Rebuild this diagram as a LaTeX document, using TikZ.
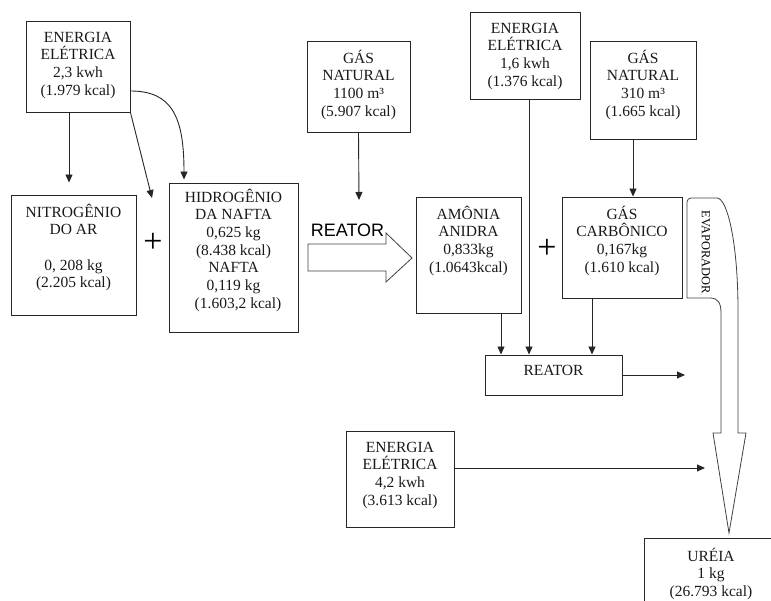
\documentclass[tikz,border=0pt]{standalone}
\usepackage{fontspec}
\setmainfont{Liberation Serif}
\newfontfamily\arialfont{Liberation Sans}
\usepackage{tikz}
\usetikzlibrary{positioning, arrows.meta}
\tikzstyle{box} = [rectangle, draw=black!85, line width=0.9pt, inner sep=0pt]
\tikzstyle{txt} = [font=\fontsize{15.5}{17.7}\selectfont, align=center, inner sep=0pt, text=black!90]
\tikzstyle{plus} = [font=\fontsize{34}{34}\selectfont, inner sep=0pt]
\tikzstyle{arrow} = [line width=0.9pt, draw=black!85, -{Triangle[length=8pt,width=7pt]}]
\tikzstyle{bigarrow} = [line width=0.8pt, draw=black!75]

\begin{document}
\begin{tikzpicture}[x=1pt, y=1pt]
  \useasboundingbox (0,0) rectangle (771,601);
  \clip (0,0) rectangle (771,601);
  % boxes
  \node (energia1) [box, minimum width=104pt, minimum height=91pt] at (78,534.5) {};
  \node (nitrogenio) [box, minimum width=125pt, minimum height=120pt] at (73.5,346) {};
  \node (hidrogenio) [box, minimum width=129pt, minimum height=149pt] at (233.5,343.5) {};
  \node (gas1) [box, minimum width=103pt, minimum height=91pt] at (358.5,514.5) {};
  \node (energia2) [box, minimum width=110pt, minimum height=87pt] at (525,545.5) {};
  \node (gas2) [box, minimum width=106pt, minimum height=98pt] at (643,511) {};
  \node (amonia) [box, minimum width=105pt, minimum height=116pt] at (468.5,346) {};
  \node (carbonico) [box, minimum width=120pt, minimum height=101pt] at (622,353.5) {};
  \node (reator) [box, minimum width=137pt, minimum height=40pt] at (553.5,226) {};
  \node (energia3) [box, minimum width=108pt, minimum height=96pt] at (400,122) {};
  \node (ureia) [box, minimum width=134pt, minimum height=82pt] at (711,22) {};
  % texts
  \node (energia1txt) [txt, below=11pt of energia1.north]{ENERGIA\\ELÉTRICA\\2,3 kwh\\(1.979 kcal)};
  \node (nitrogeniotxt) [txt, below=9pt of nitrogenio.north]{NITROGÊNIO\\DO AR\\[17.7pt]0, 208 kg\\(2.205 kcal)};
  \node (hidrogeniotxt) [txt, below=6pt of hidrogenio.north]{HIDROGÊNIO\\DA NAFTA\\0,625 kg\\(8.438 kcal)\\NAFTA\\0,119 kg\\\hspace*{9pt}(1.603,2 kcal)};
  \node (gas1txt) [txt, below=9pt of gas1.north]{GÁS\\NATURAL\\1100 m³\\(5.907 kcal)};
  \node (energia2txt) [txt, below=11pt of energia2.north]{ENERGIA\\ELÉTRICA\\1,6 kwh\\(1.376 kcal)};
  \node (gas2txt) [txt, below=9pt of gas2.north]{GÁS\\NATURAL\\310 m³\\(1.665 kcal)};
  \node (amoniatxt) [txt, below=9pt of amonia.north]{AMÔNIA\\ANIDRA\\0,833kg\\(1.0643kcal)};
  \node (carbonicotxt) [txt, below=9pt of carbonico.north]{GÁS\\CARBÔNICO\\0,167kg\\(1.610 kcal)};
  \node (reatortxt) [txt, below=10pt of reator.north]{REATOR};
  \node (energia3txt) [txt, below=11pt of energia3.north]{ENERGIA\\ELÉTRICA\\4,2 kwh\\(3.613 kcal)};
  \node (ureiatxt) [txt, below=10pt of ureia.north]{URÉIA\\1 kg\\(26.793 kcal)};
  \node (plus1) [plus] at (153,358.5) {+};
  \node (plus2) [plus] at (547,352) {+};
  % block arrows
  \draw[bigarrow] (308,357) -- (386,357) -- (386,368) -- (412,343) -- (386,319) -- (386,330) -- (308,330) -- cycle;
  \node (reatorlbl) [font=\arialfont\fontsize{18}{18}\selectfont, inner sep=0pt] at (347.5,370.5) {REATOR};
  \draw[bigarrow] (687,303) [rounded corners=4pt]-- (687,403) -- (713,403) [sharp corners]
    .. controls (727,403) and (738,360) .. (738,290) -- (738,168) -- (746,168) -- (729,68)
    -- (713,168) -- (721,168) -- (721,288) .. controls (721,298) and (718,303) .. (710,303) -- cycle;
  \node (evaporador) [font=\fontsize{12.4}{12.4}\selectfont, rotate=-90, inner sep=0pt] at (706,348.5) {EVAPORADOR};
  % free ends
  \coordinate (mistura) at (152,403);
  \coordinate (reatorIn) at (359,401);
  \coordinate (reatorOut) at (685,226);
  \coordinate (evapIn) at (705,133);
  % connectors
  \draw[arrow, shorten >=12pt] ([xshift=-9pt]energia1.south) -- ([xshift=-9pt]energia1.south |- nitrogenio.north);
  \draw[arrow] (energia1.south east) -- (mistura);
  \draw[arrow] ([yshift=-24.5pt]energia1.east) .. controls +(42,0) and +(0,62) .. ([xshift=-49.5pt,yshift=3pt]hidrogenio.north);
  \draw[arrow] (gas1.south) -- (reatorIn);
  \draw[arrow] ([xshift=4pt]energia2.south) -- ([xshift=4pt]energia2.south |- reator.north);
  \draw[arrow] ([xshift=-10pt]gas2.south) -- ([xshift=-10pt]gas2.south |- carbonico.north);
  \draw[arrow] ([xshift=32.5pt]amonia.south) -- ([xshift=32.5pt]amonia.south |- reator.north);
  \draw[arrow] ([xshift=-30pt]carbonico.south) -- ([xshift=-30pt]carbonico.south |- reator.north);
  \draw[arrow] (reator.east) -- (reatorOut);
  \draw[arrow] ([yshift=11pt]energia3.east) -- (evapIn);
\end{tikzpicture}
\end{document}
